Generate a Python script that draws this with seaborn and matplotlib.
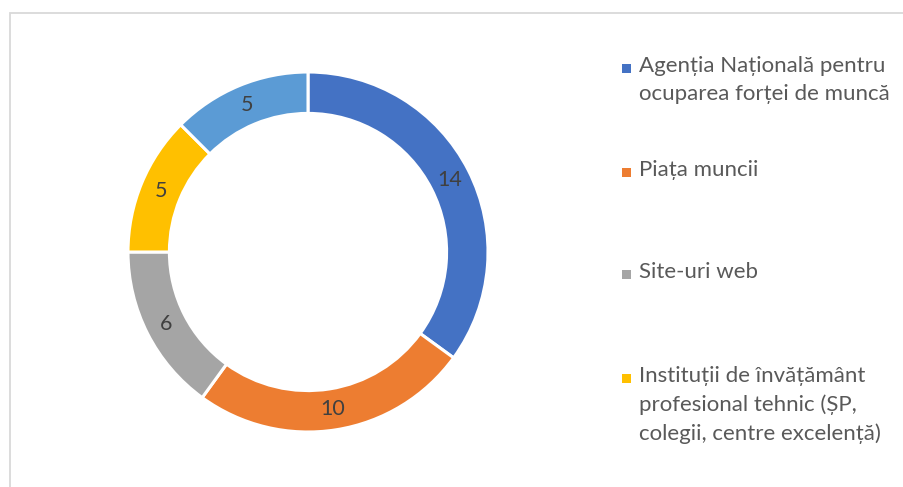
import matplotlib
matplotlib.use("Agg")
import matplotlib.pyplot as plt
from matplotlib.patches import Rectangle
import seaborn as sns
import numpy as np

# data
categories = ["Agenția Națională pentru\nocuparea forței de muncă",
              "Piața muncii",
              "Site-uri web",
              "Instituții de învățământ\nprofesional tehnic (ȘP,\ncolegii, centre excelență)",
              "Alte surse"]
values = [14, 10, 6, 5, 5]
colors = ["#4472C4", "#ED7D31", "#A5A5A5", "#FFC000", "#5B9BD5"]

sns.set_theme(style="white")
plt.rcParams['font.family'] = ['Lato', 'Open Sans', 'DejaVu Sans']

W, H = 904, 487
fig = plt.figure(figsize=(W / 100, H / 100), dpi=100)

# chart border (clipped at right/bottom like the screenshot)
fig.add_artist(Rectangle((9.5 / W, -0.1), 1.2, (H - 12.5) / H + 0.1,
                         transform=fig.transFigure, fill=False,
                         edgecolor="#D9D9D9", lw=1.3))

# donut
cx, cy, R = 308, 487 - 252, 180
pad = 185
ax = fig.add_axes([(cx - pad) / W, (cy - pad) / H, 2 * pad / W, 2 * pad / H])
wedges, _ = ax.pie(values, colors=colors, startangle=90, counterclock=False,
                   radius=1.0, wedgeprops=dict(width=0.23, edgecolor="white", linewidth=2.2))
ax.set_xlim(-pad / R, pad / R)
ax.set_ylim(-pad / R, pad / R)
ax.set_aspect("equal")
ax.axis("off")

# value labels in the middle of the ring
total = sum(values)
start = 90.0
for v in values:
    mid = np.deg2rad(start - v / total * 360 / 2)
    ax.text(0.885 * np.cos(mid), 0.885 * np.sin(mid), str(v), ha="center", va="center",
            fontsize=15.5, color="#404040")
    start -= v / total * 360

# legend (only the first four entries fit in the visible area)
tops = [56, 160, 262, 366]
for lab, col, yt in zip(categories[:4], colors[:4], tops):
    fig.add_artist(Rectangle((622 / W, (H - yt - 17) / H), 9 / W, 9 / H,
                             transform=fig.transFigure, color=col, lw=0))
    fig.text(639 / W, (H - yt) / H, lab, ha="left", va="top",
             fontsize=16, color="#595959", linespacing=1.5)

fig.savefig("out.png", dpi=100, facecolor="white")
